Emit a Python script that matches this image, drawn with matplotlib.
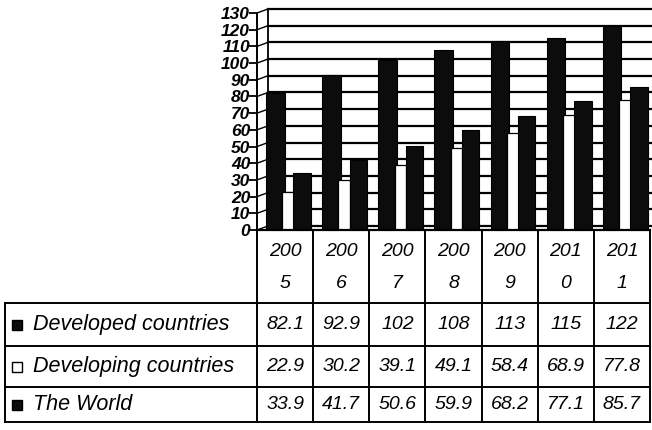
import matplotlib
matplotlib.use("Agg")
import matplotlib.pyplot as plt
import matplotlib.transforms as mtransforms
from matplotlib.lines import Line2D
from matplotlib.patches import Rectangle
import numpy as np

years = ["2005", "2006", "2007", "2008", "2009", "2010", "2011"]
developed = [82.1, 92.9, 102, 108, 113, 115, 122]
developing = [22.9, 30.2, 39.1, 49.1, 58.4, 68.9, 77.8]
world = [33.9, 41.7, 50.6, 59.9, 68.2, 77.1, 85.7]
series_names = ["Developed countries", "Developing countries", "The World"]
yticks = list(range(0, 131, 10))

W, H = 652, 430
fig = plt.figure(figsize=(W / 100, H / 100), dpi=100)
fig.patch.set_facecolor("white")

FONT = "Liberation Sans"
DARK = "#0c0c0c"

# chart frame (front plane) in pixel terms
x0, x1 = 257, 650
y_base, y_top = 230, 13
ax = fig.add_axes([x0 / W, 1 - y_base / H, (x1 - x0) / W, (y_base - y_top) / H])
ax.set_xlim(0, len(years))
ax.set_ylim(0, 130)
for s in ax.spines.values():
    s.set_visible(False)
ax.set_xticks([])
ax.set_yticks(yticks)
ax.set_yticklabels([str(v) for v in yticks], fontfamily=FONT, fontsize=12.5,
                   fontweight="bold", fontstyle="italic")
ax.tick_params(axis="y", length=6, width=1.3, pad=-1, color="black")
ax.patch.set_alpha(0)

# back wall, shifted in depth
depth = mtransforms.ScaledTranslation(11 / 100, 4 / 100, fig.dpi_scale_trans)
back = ax.transData + depth
for v in yticks:
    ax.add_line(Line2D([0, len(years) + 0.1], [v, v], transform=back,
                       color="black", lw=1.6, clip_on=False, zorder=1))
ax.add_line(Line2D([0, 0], [0, 130], transform=back, color="black", lw=1.3,
                   clip_on=False, zorder=1))
# side wall diagonals connecting front ticks to the back wall
for v in yticks:
    p1 = ax.transData.transform((0, v))
    p2 = back.transform((0, v))
    fig.add_artist(Line2D([p1[0], p2[0]], [p1[1], p2[1]], transform=None,
                          color="black", lw=1.0, zorder=3))
# front axis line and floor edge
ax.add_line(Line2D([0, 0], [0, 130], color="black", lw=1.4, clip_on=False, zorder=5))
ax.add_line(Line2D([0, len(years)], [0, 0], color="black", lw=1.6, clip_on=False, zorder=5))

# bars
idx = np.arange(len(years))
ax.bar(idx + 0.16, developed, width=0.33, align="edge", color=DARK,
       edgecolor="black", lw=0.8, zorder=2)
ax.bar(idx + 0.45, developing, width=0.21, align="edge", color="white",
       edgecolor="black", lw=0.9, zorder=3)
ax.bar(idx + 0.65, world, width=0.31, align="edge", color=DARK,
       edgecolor="black", lw=0.8, zorder=4)

# data table drawn below the chart in pixel coordinates
tab = fig.add_axes([0, 0, 1, 1])
tab.set_xlim(0, W)
tab.set_ylim(H, 0)
tab.axis("off")
tab.patch.set_alpha(0)

col_w = (x1 - x0) / len(years)
col_x = [x0 + col_w * k for k in range(len(years) + 1)]
row_y = [230, 303, 346, 387, 422]
left_x = 5
lw = 1.4
for cx in col_x:
    tab.plot([cx, cx], [row_y[0], row_y[-1]], color="black", lw=lw)
tab.plot([left_x, left_x], [row_y[1], row_y[-1]], color="black", lw=lw)
for ry in row_y[1:]:
    tab.plot([left_x, x1], [ry, ry], color="black", lw=lw)

tfont = dict(fontfamily=FONT, fontstyle="italic", fontsize=14, color="black")
lfont = dict(tfont, fontsize=15.5)
for k, yr in enumerate(years):
    cx = col_x[k] + col_w / 2
    tab.text(cx, 251, yr[:3], ha="center", va="center", **tfont)
    tab.text(cx, 283, yr[3:], ha="center", va="center", **tfont)

def fmt(v):
    return f"{v:g}"

rows = [developed, developing, world]
fills = [DARK, "white", DARK]
for r, (name, vals, fc) in enumerate(zip(series_names, rows, fills)):
    yc = (row_y[r + 1] + row_y[r + 2]) / 2
    tab.add_patch(Rectangle((12, yc - 5), 10, 10, facecolor=fc,
                            edgecolor="black", lw=1.0))
    tab.text(33, yc, name, ha="left", va="center", **lfont)
    for k, v in enumerate(vals):
        tab.text(col_x[k] + col_w / 2, yc, fmt(v), ha="center", va="center", **tfont)

fig.savefig("out.png", dpi=100, facecolor="white")
